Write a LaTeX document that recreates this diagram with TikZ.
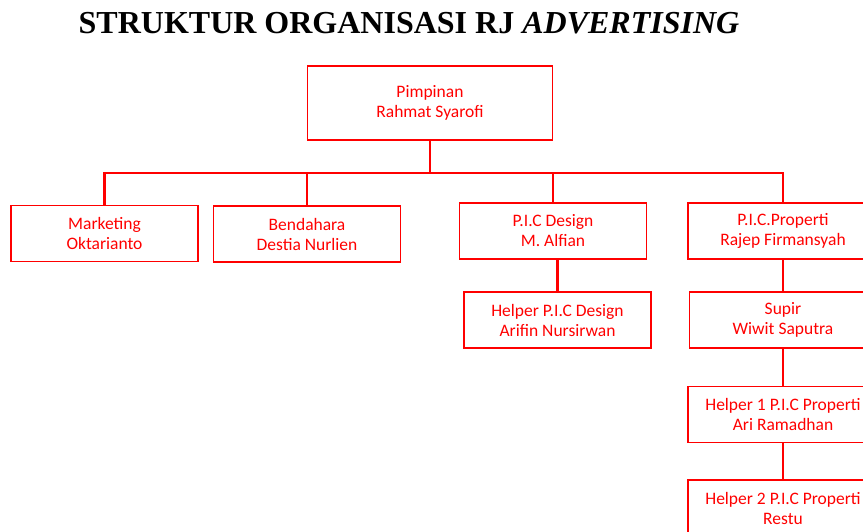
\documentclass[tikz,border=0pt]{standalone}
\usepackage{fontspec}
\setmainfont{Carlito}
\newfontfamily\titlefont{Liberation Serif}
\tikzset{
    RB1/.style ={rectangle,minimum width = 245pt, minimum height = 74pt, draw=red, line width=1.4pt, text=red, align=center, font=\fontsize{17.5}{20}\selectfont},
    RB2/.style ={rectangle,minimum width = 187pt, minimum height = 56pt, draw=red, line width=1.4pt, text=red, align=center, font=\fontsize{17.5}{20}\selectfont},
    LN/.style ={draw=red, line width=2.4pt}}

\begin{document}
\begin{tikzpicture}[x=1pt,y=-1pt]
        \useasboundingbox (0,0) rectangle (863,531);
        \node[font=\titlefont\bfseries\fontsize{32}{34}\selectfont, anchor=base] (title) at (409,33) {STRUKTUR ORGANISASI RJ \textit{ADVERTISING}};
        \node[RB1] (pim) at (430,103) {Pimpinan\\Rahmat Syarofi};
        \node[RB2] (mkt) at (104.5,233.5) {Marketing\\Oktarianto};
        \node[RB2] (ben) at (307,234) {Bendahara\\Destia Nurlien};
        \node[RB2] (dsg) at (553,231) {P.I.C Design\\M. Alfian};
        \node[RB2, minimum width=190pt] (pro) at (783,231) {P.I.C.Properti\\Rajep Firmansyah};
        \node[RB2] (hdsg) at (557.5,320) {Helper P.I.C Design\\Arifin Nursirwan};
        \node[RB2] (sup) at (783,320) {Supir\\Wiwit Saputra};
        \node[RB2, minimum width=190pt] (hp1) at (783,414.5) {Helper 1 P.I.C Properti\\Ari Ramadhan};
        \node[RB2, minimum width=190pt] (hp2) at (783,508) {Helper 2 P.I.C Properti\\Restu};
        \coordinate (J) at (430,173);
        \draw[LN] (pim.south) -- (J);
        \foreach \n in {mkt,ben,dsg,pro}{
            \draw[LN] (J) -| (\n.north);}
        \draw[LN] (hdsg.north) -- (hdsg.north |- dsg.south);
        \draw[LN] (pro.south) -- (sup.north);
        \draw[LN] (sup.south) -- (hp1.north);
        \draw[LN] (hp1.south) -- (hp2.north);
    \end{tikzpicture}
\end{document}
